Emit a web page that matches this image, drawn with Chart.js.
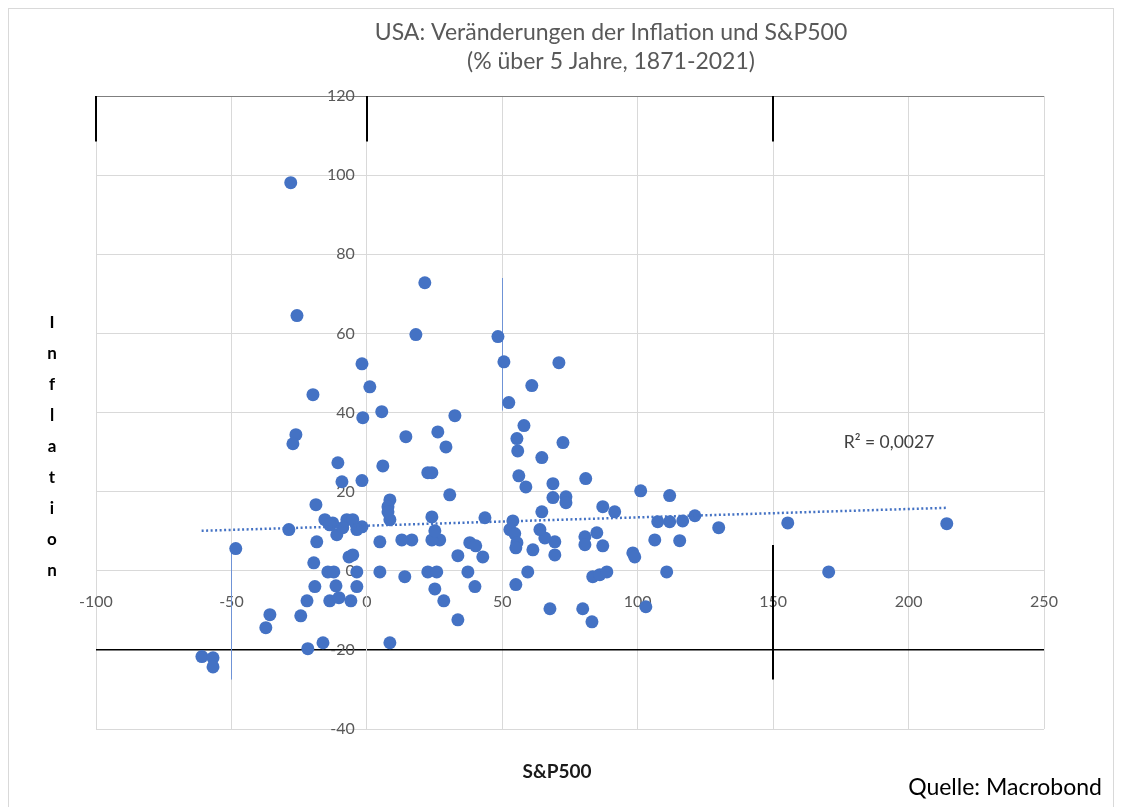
<!DOCTYPE html>
<html>
<head>
<meta charset="utf-8">
<script src="https://cdn.jsdelivr.net/npm/chart.js@4.4.1/dist/chart.umd.min.js"></script>
<style>
  html, body { margin: 0; padding: 0; background: #fff; }
</style>
</head>
<body>
<canvas id="chart" width="1122" height="807"></canvas>
<script>
// 5-year change in % : S&P500 (x) vs. inflation (y)
const sp500 = [
  -28.1, -25.8, 21.4, 18.1, 48.4, 50.6, 70.9, -1.8, 60.9, 1.1,
  52.4, -19.9, 5.5, -1.5, 32.5, -26.2, -27.3, 14.4, 26.2, 29.2,
  -10.7, 5.9, 22.5, 24.0, -9.2, -1.8, 30.6, -18.8, 8.5, 7.8,
  58.0, 55.4, 55.7, 72.4, 64.6, 56.1, 58.7, 68.7, 80.8, 68.7,
  73.5, 73.5, 101.1, 111.8, 87.1, 91.5, 64.6, 43.6, 53.9, 121.1,
  116.6, 107.4, 111.8, 129.9, 155.4, 214.1, 170.5, 115.5, 106.3, 98.2,
  98.9, 110.7, 103.0, 83.1, 79.7, 67.6, 83.4, 86.0, 88.6, 84.9,
  80.5, 80.5, 87.1, 69.4, 65.7, 63.9, 52.8, 54.6, 55.4, 55.0,
  61.3, 69.4, 59.4, 55.0, 42.8, 33.6, 37.3, 39.9, 33.6, 38.0,
  40.2, 28.4, 25.1, 22.5, 25.8, 14.0, 4.8, 8.5, 26.9, 24.0,
  16.6, 12.9, 4.8, 25.1, 24.0, 8.5, 7.8, -15.5, -12.6, -7.4,
  -5.2, -1.8, -11.1, -3.7, -8.9, -13.7, -28.8, -18.5, -48.4, -6.6,
  -5.2, -19.6, -14.4, -12.2, -3.7, -19.2, -11.4, -3.7, -22.1, -13.7,
  -10.3, -5.9, -35.8, -37.3, -24.4, -21.8, -16.2, -60.9, -56.8, -56.8
];
const inflation = [
  98.1, 64.5, 72.8, 59.7, 59.2, 52.8, 52.6, 52.3, 46.8, 46.5,
  42.5, 44.5, 40.2, 38.7, 39.2, 34.4, 32.1, 33.9, 35.1, 31.3,
  27.3, 26.5, 24.8, 24.8, 22.5, 22.8, 19.2, 16.7, 17.9, 16.2,
  36.7, 33.4, 30.3, 32.4, 28.6, 24.0, 21.2, 22.0, 23.3, 18.5,
  18.7, 17.2, 20.2, 19.0, 16.2, 14.9, 14.9, 13.4, 12.6, 13.9,
  12.6, 12.4, 12.4, 10.9, 12.1, 11.9, -0.3, 7.6, 7.8, 4.5,
  3.5, -0.3, -9.1, -12.9, -9.6, -9.6, -1.5, -1.0, -0.3, 9.6,
  8.6, 6.6, 6.3, 7.3, 8.3, 10.4, 10.4, 9.4, 7.1, 5.8,
  5.3, 4.0, -0.3, -3.5, 3.5, 3.8, -0.3, -4.0, -12.4, 7.1,
  6.3, -7.6, -4.6, -0.3, -0.3, -1.5, -0.3, -18.2, 7.8, 7.8,
  7.8, 7.8, 7.3, 10.1, 13.6, 12.9, 14.9, 12.9, 12.1, 12.9,
  12.9, 11.1, 9.1, 10.4, 10.9, 11.6, 10.4, 7.3, 5.6, 3.5,
  4.0, 2.0, -0.3, -0.3, -0.3, -4.0, -3.8, -4.0, -7.6, -7.6,
  -6.8, -7.6, -11.1, -14.4, -11.4, -19.7, -18.2, -21.7, -22.0, -24.3
];
// linear trend line ends (R² = 0,0027)
const trendX = [-61, 214];
const trendY = [10.1, 15.9];

const xTicks = [-100, -50, 0, 50, 100, 150, 200, 250];
const yTicks = [-40, -20, 0, 20, 40, 60, 80, 100, 120];

const blue = '#4472C4';
const gridGrey = '#d9d9d9';
const font = 'Lato, "Open Sans", sans-serif';

// stray lines of the original image, in axis units
const strayLines = [
  { x: [-100, -100], y: [120, 108.5], color: '#000', width: 2 },
  { x: [0, 0], y: [120, 108.5], color: '#000', width: 2 },
  { x: [150, 150], y: [120, 108.5], color: '#000', width: 2 },
  { x: [150, 150], y: [6.5, -27.5], color: '#000', width: 2 },
  { x: [-50, -50], y: [5.5, -27.5], color: '#6f93d6', width: 1 },
  { x: [50, 50], y: [74, 40.5], color: '#6f93d6', width: 1 }
];

const points = sp500.map((v, i) => ({ x: v, y: inflation[i] }));
const trend = trendX.map((v, i) => ({ x: v, y: trendY[i] }));

const strayPlugin = {
  id: 'stray',
  beforeDatasetsDraw(chart) {
    const { ctx, scales: { x, y } } = chart;
    ctx.save();
    strayLines.forEach(s => {
      ctx.strokeStyle = s.color;
      ctx.lineWidth = s.width;
      const off = s.width === 1 ? 0.5 : 0;
      ctx.beginPath();
      ctx.moveTo(Math.round(x.getPixelForValue(s.x[0])) + off, y.getPixelForValue(s.y[0]));
      ctx.lineTo(Math.round(x.getPixelForValue(s.x[1])) + off, y.getPixelForValue(s.y[1]));
      ctx.stroke();
    });
    ctx.restore();
  }
};

const textPlugin = {
  id: 'texts',
  afterDraw(chart) {
    const ctx = chart.ctx;
    ctx.save();
    // frame of the picture
    ctx.strokeStyle = gridGrey;
    ctx.lineWidth = 1;
    ctx.strokeRect(8.5, 8.5, 1105, 805);

    ctx.textBaseline = 'middle';
    ctx.textAlign = 'center';
    ctx.fillStyle = '#595959';
    ctx.font = '23px ' + font;
    ctx.fillText('USA: Veränderungen der Inflation und S&P500', 611, 33);
    ctx.fillText('(% über 5 Jahre, 1871-2021)', 611, 62);

    ctx.fillStyle = '#000';
    ctx.font = 'bold 17px ' + font;
    'Inflation'.split('').forEach((ch, i) => ctx.fillText(ch, 52, 323 + i * 31));

    ctx.fillStyle = '#1a1a1a';
    ctx.font = 'bold 19px ' + font;
    ctx.fillText('S&P500', 557, 772);

    ctx.fillStyle = '#404040';
    ctx.font = '17.5px ' + font;
    ctx.fillText('R² = 0,0027', 889, 442);

    ctx.fillStyle = '#000';
    ctx.font = '23px ' + font;
    ctx.textAlign = 'right';
    ctx.fillText('Quelle: Macrobond', 1102, 788);
    ctx.restore();
  }
};

new Chart(document.getElementById('chart'), {
  type: 'scatter',
  data: {
    datasets: [
      {
        label: 'Inflation',
        data: points,
        backgroundColor: blue,
        borderColor: blue,
        borderWidth: 0,
        pointRadius: 6.5,
        order: 2
      },
      {
        type: 'line',
        label: 'Trend',
        data: trend,
        borderColor: blue,
        borderWidth: 2.5,
        borderDash: [2, 2.5],
        pointRadius: 0,
        fill: false,
        order: 1
      }
    ]
  },
  options: {
    responsive: false,
    animation: false,
    devicePixelRatio: 1,
    layout: { padding: { top: 96, left: 96, right: 78, bottom: 78 } },
    plugins: {
      legend: { display: false },
      title: { display: false },
      tooltip: { enabled: false }
    },
    scales: {
      x: {
        type: 'linear',
        position: { y: 0 },
        min: -100,
        max: 250,
        afterBuildTicks: s => { s.ticks = xTicks.map(v => ({ value: v })); },
        grid: { color: gridGrey, drawTicks: false },
        border: { color: gridGrey },
        ticks: {
          padding: 21,
          color: '#595959',
          font: { family: font, size: 16 },
          maxRotation: 0
        }
      },
      y: {
        type: 'linear',
        position: { x: 0 },
        min: -40,
        max: 120,
        afterBuildTicks: s => { s.ticks = yTicks.map(v => ({ value: v })); },
        grid: {
          drawTicks: false,
          color: c => c.tick && c.tick.value === -20 ? '#000' : (c.tick && c.tick.value === 120 ? '#7f7f7f' : gridGrey),
          lineWidth: c => c.tick && c.tick.value === -20 ? 1.5 : 1
        },
        border: { color: gridGrey },
        ticks: {
          padding: 0,
          color: '#595959',
          font: { family: font, size: 16 },
          callback: v => v + '\u2003'
        }
      }
    }
  },
  plugins: [strayPlugin, textPlugin]
});
</script>
</body>
</html>
